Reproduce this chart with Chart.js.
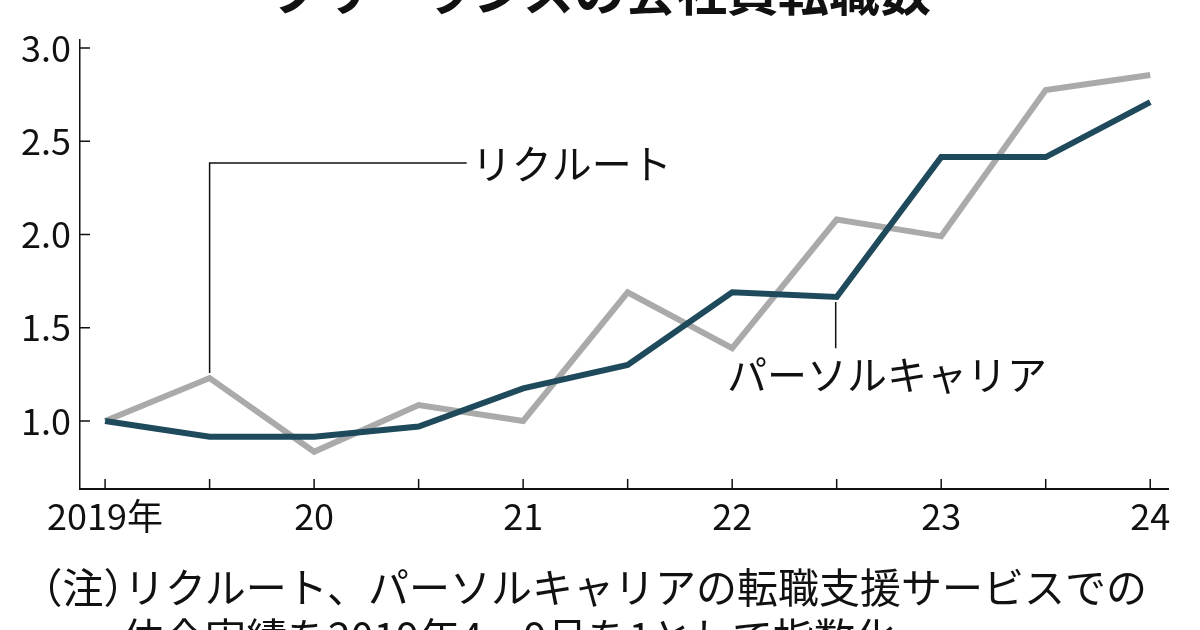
<!DOCTYPE html>
<html lang="ja">
<head>
<meta charset="utf-8">
<script src="https://cdn.jsdelivr.net/npm/chart.js@4.4.1/dist/chart.umd.min.js"></script>
<style>
  html, body { margin: 0; padding: 0; background: #fff; }
  body { width: 1200px; height: 630px; overflow: hidden; position: relative; font-family: "Noto Sans CJK JP", sans-serif; color: #111; }
  #chart { position: absolute; left: 0; top: 0; }
  .title { position: absolute; left: 0; top: -36px; width: 1200px; text-align: center; font-size: 51px; line-height: 51px; font-weight: 700; white-space: nowrap; }
  .note { position: absolute; left: 42px; top: 560px; font-size: 41px; line-height: 50px; white-space: nowrap; }
  .note .p { font-feature-settings: "halt"; }
  .note .l2 { padding-left: 81px; }
</style>
</head>
<body>
<div class="title">フリーランスの会社員転職数</div>
<canvas id="chart" width="1200" height="630"></canvas>
<div class="note">
  <div><span class="p">（</span>注<span class="p">）</span>リクルート、パーソルキャリアの転職支援サービスでの</div>
  <div class="l2">仲介実績を2019年4～9月を1として指数化</div>
</div>
<script>
// half-year periods, 2019年4～9月 = 1
const periods = ['2019上', '2019下', '2020上', '2020下', '2021上', '2021下', '2022上', '2022下', '2023上', '2023下', '2024上'];
const xTickLabels = ['2019年', '', '20', '', '21', '', '22', '', '23', '', '24'];
const yTickValues = [1.0, 1.5, 2.0, 2.5, 3.0];

const recruit = [1.00, 1.23, 0.835, 1.085, 1.00, 1.69, 1.39, 2.08, 1.99, 2.775, 2.855];
const persol = [1.00, 0.915, 0.915, 0.97, 1.175, 1.30, 1.69, 1.665, 2.415, 2.415, 2.71];

const seriesNames = ['リクルート', 'パーソルキャリア'];

const tickFont = { family: '"Noto Sans CJK JP"', size: 36 };

const toPoints = arr => arr.map((v, i) => ({ x: i, y: v }));

// tick marks drawn inward from the axis lines
const innerTicks = {
  id: 'innerTicks',
  afterDraw(chart) {
    const { ctx, scales: { x, y } } = chart;
    ctx.save();
    ctx.strokeStyle = '#111';
    ctx.lineWidth = 1.5;
    ctx.beginPath();
    yTickValues.forEach(v => {
      const py = y.getPixelForValue(v);
      ctx.moveTo(x.left, py);
      ctx.lineTo(x.left + 10, py);
    });
    periods.forEach((p, i) => {
      const px = x.getPixelForValue(i);
      ctx.moveTo(px, y.bottom);
      ctx.lineTo(px, y.bottom - 10);
    });
    ctx.stroke();
    ctx.restore();
  }
};

// series labels with leader lines
const seriesLabels = {
  id: 'seriesLabels',
  afterDatasetsDraw(chart) {
    const { ctx, scales: { x, y } } = chart;
    ctx.save();
    ctx.strokeStyle = '#111';
    ctx.lineWidth = 1.5;
    ctx.fillStyle = '#111';
    ctx.font = '40px "Noto Sans CJK JP"';
    ctx.textBaseline = 'middle';
    ctx.textAlign = 'left';

    // リクルート: up from the 2019下 point, then right
    const rx = x.getPixelForValue(1);
    const ry0 = y.getPixelForValue(recruit[1]) - 5;
    const ry1 = y.getPixelForValue(2.383);
    const rx1 = x.getPixelForValue(3.46);
    ctx.beginPath();
    ctx.moveTo(rx, ry0);
    ctx.lineTo(rx, ry1);
    ctx.lineTo(rx1, ry1);
    ctx.stroke();
    ctx.fillText(seriesNames[0], rx1 + 5, ry1 + 1);

    // パーソルキャリア: down from the 2022下 point
    const px = x.getPixelForValue(7) - 1;
    const py0 = y.getPixelForValue(persol[7]) + 5;
    const py1 = y.getPixelForValue(1.39);
    ctx.beginPath();
    ctx.moveTo(px, py0);
    ctx.lineTo(px, py1);
    ctx.stroke();
    ctx.fillText(seriesNames[1], x.getPixelForValue(5.95), y.getPixelForValue(1.247));
    ctx.restore();
  }
};

new Chart(document.getElementById('chart'), {
  type: 'line',
  data: {
    datasets: [
      {
        label: seriesNames[1],
        data: toPoints(persol),
        borderColor: '#1e4a5c',
        borderWidth: 6,
        borderJoinStyle: 'miter',
        pointRadius: 0,
        tension: 0
      },
      {
        label: seriesNames[0],
        data: toPoints(recruit),
        borderColor: '#aaaaaa',
        borderWidth: 6,
        borderJoinStyle: 'miter',
        pointRadius: 0,
        tension: 0
      }
    ]
  },
  options: {
    responsive: false,
    animation: false,
    devicePixelRatio: 1,
    layout: { padding: { left: 0, right: 32, top: 40, bottom: 0 } },
    plugins: {
      legend: { display: false },
      tooltip: { enabled: false },
      title: { display: false }
    },
    scales: {
      x: {
        type: 'linear',
        min: -0.24,
        max: 10.17,
        grid: { display: false, drawTicks: false },
        border: { display: true, color: '#111', width: 2 },
        afterBuildTicks: s => { s.ticks = periods.map((p, i) => ({ value: i })); },
        afterFit: s => { s.height = 141; },
        ticks: {
          autoSkip: false,
          maxRotation: 0,
          padding: 6,
          color: '#111',
          font: tickFont,
          callback: v => xTickLabels[v]
        }
      },
      y: {
        type: 'linear',
        min: 0.635,
        max: 3.043,
        grid: { display: false, drawTicks: false },
        border: { display: true, color: '#111', width: 1.5 },
        afterBuildTicks: s => { s.ticks = yTickValues.map(v => ({ value: v })); },
        afterFit: s => { s.width = 80; },
        ticks: {
          padding: 9,
          color: '#111',
          font: tickFont,
          callback: v => v.toFixed(1)
        }
      }
    }
  },
  plugins: [innerTicks, seriesLabels]
});
</script>
</body>
</html>
